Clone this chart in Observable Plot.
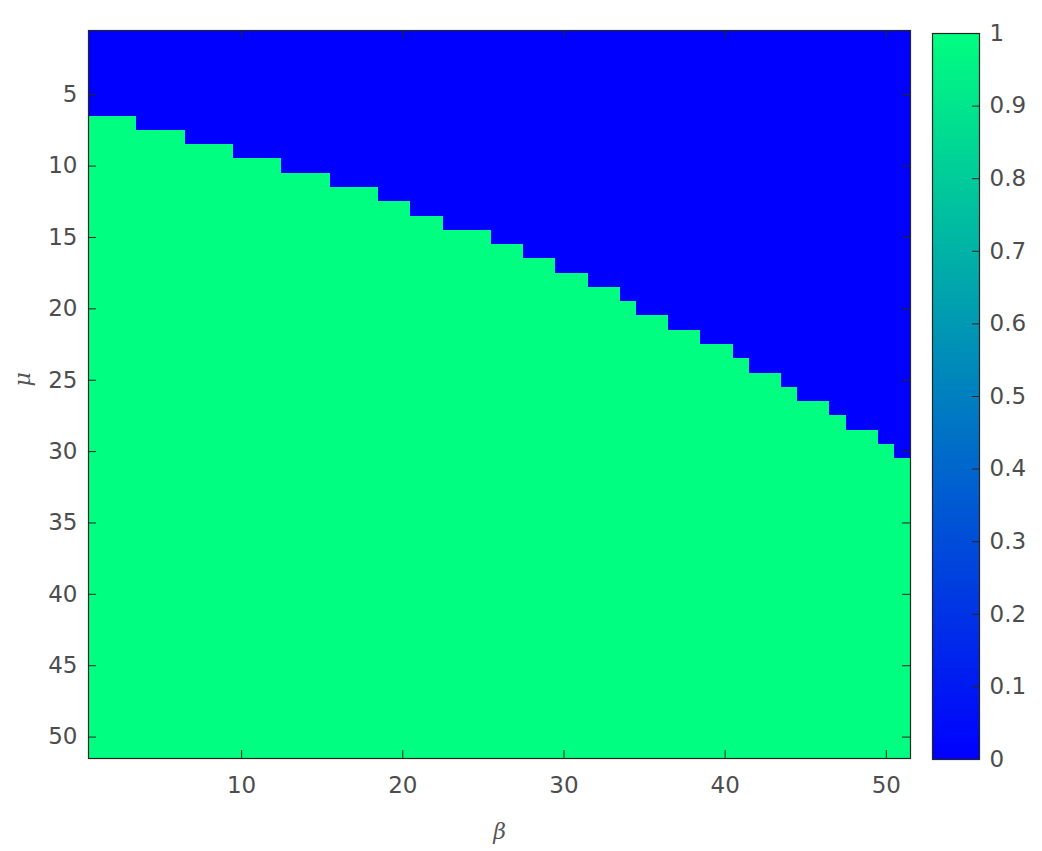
<!DOCTYPE html>
<html>
<head>
<meta charset="utf-8">
<script src="https://cdn.jsdelivr.net/npm/d3@7"></script>
<script src="https://cdn.jsdelivr.net/npm/@observablehq/plot@0.6"></script>
<style>
  html, body { margin: 0; padding: 0; background: #fff; }
  #wrap { position: relative; width: 1042px; height: 851px; }
  #main { position: absolute; left: 0; top: 0; }
  #cbar { position: absolute; left: 920px; top: 0; }
</style>
</head>
<body>
<div id="wrap"><div id="main"></div><div id="cbar"></div></div>
<script>
// β values (columns) and μ values (rows) of the grid
const betaValues = [1,2,3,4,5,6,7,8,9,10,11,12,13,14,15,16,17,18,19,20,21,22,23,24,25,26,27,28,29,30,31,32,33,34,35,36,37,38,39,40,41,42,43,44,45,46,47,48,49,50,51];
const muValues   = [1,2,3,4,5,6,7,8,9,10,11,12,13,14,15,16,17,18,19,20,21,22,23,24,25,26,27,28,29,30,31,32,33,34,35,36,37,38,39,40,41,42,43,44,45,46,47,48,49,50,51];
// first μ (per β column) whose value is 1; cells above it are 0
const firstOneMu = [7,7,7, 8,8,8, 9,9,9, 10,10,10, 11,11,11, 12,12,12, 13,13, 14,14, 15,15,15, 16,16, 17,17, 18,18, 19,19, 20, 21,21, 22,22, 23,23, 24, 25,25, 26, 27,27, 28, 29,29, 30, 31];
const xTicks = [10, 20, 30, 40, 50];
const yTicks = [5, 10, 15, 20, 25, 30, 35, 40, 45, 50];
const cbTicks = [0, 0.1, 0.2, 0.3, 0.4, 0.5, 0.6, 0.7, 0.8, 0.9, 1];
const cbTickLabels = ["0", "0.1", "0.2", "0.3", "0.4", "0.5", "0.6", "0.7", "0.8", "0.9", "1"];

const cells = [];
betaValues.forEach((b, i) => {
  muValues.forEach(m => cells.push({beta: b, mu: m, v: m >= firstOneMu[i] ? 1 : 0}));
});

const colorScale = {type: "linear", domain: [0, 1], range: ["#0000ff", "#00ff80"], interpolate: "rgb"};
const axisColor = "#262626";
const textColor = "#4d4d4d";
const plotW = 822, plotH = 728;

const main = Plot.plot({
  width: 920, height: 851,
  marginLeft: 88, marginRight: 10, marginTop: 30, marginBottom: 93,
  style: {fontFamily: "DejaVu Sans", fontSize: "23px", color: textColor, background: "#fff"},
  x: {domain: [0.5, 51.5]},
  y: {domain: [0.5, 51.5], reverse: true},
  color: colorScale,
  marks: [
    Plot.rect(cells, {x1: d => d.beta - 0.5, x2: d => d.beta + 0.5, y1: d => d.mu - 0.5, y2: d => d.mu + 0.5, fill: "v", shapeRendering: "crispEdges"}),
    Plot.ruleX(xTicks, {x: d => d, insetTop: plotH - 8, stroke: axisColor}),
    Plot.ruleX(xTicks, {x: d => d, insetBottom: plotH - 8, stroke: axisColor}),
    Plot.ruleY(yTicks, {y: d => d, insetRight: plotW - 8, stroke: axisColor}),
    Plot.ruleY(yTicks, {y: d => d, insetLeft: plotW - 8, stroke: axisColor}),
    Plot.axisX(xTicks, {tickSize: 0, tickPadding: 18, label: null}),
    Plot.axisY(yTicks, {tickSize: 0, tickPadding: 11, label: null}),
    Plot.frame({stroke: axisColor, strokeWidth: 1.2}),
    Plot.text(["β"], {frameAnchor: "bottom", dy: 80, fontFamily: "DejaVu Serif", fontStyle: "italic", fontSize: 22, fill: "#555"}),
    Plot.text(["μ"], {frameAnchor: "left", dx: -66, dy: -8, rotate: -90, fontFamily: "DejaVu Serif", fontStyle: "italic", fontSize: 22, fill: "#555"})
  ]
});
document.getElementById("main").appendChild(main);

const ramp = d3.range(0, 1, 0.005);
const cbar = Plot.plot({
  width: 122, height: 851,
  marginLeft: 12, marginRight: 63, marginTop: 33, marginBottom: 92,
  style: {fontFamily: "DejaVu Sans", fontSize: "23px", color: textColor, background: "#fff"},
  x: {domain: [0, 1], axis: null},
  y: {domain: [0, 1], axis: null},
  color: colorScale,
  marks: [
    Plot.rect(ramp, {x1: 0, x2: 1, y1: d => d, y2: d => d + 0.005, fill: d => d + 0.0025, shapeRendering: "crispEdges"}),
    Plot.ruleY(cbTicks, {y: d => d, insetLeft: 40, stroke: axisColor}),
    Plot.axisY(cbTicks, {anchor: "right", tickSize: 0, tickPadding: 10, label: null, tickFormat: (d, i) => cbTickLabels[i]}),
    Plot.frame({stroke: axisColor, strokeWidth: 1.2})
  ]
});
document.getElementById("cbar").appendChild(cbar);
</script>
</body>
</html>
